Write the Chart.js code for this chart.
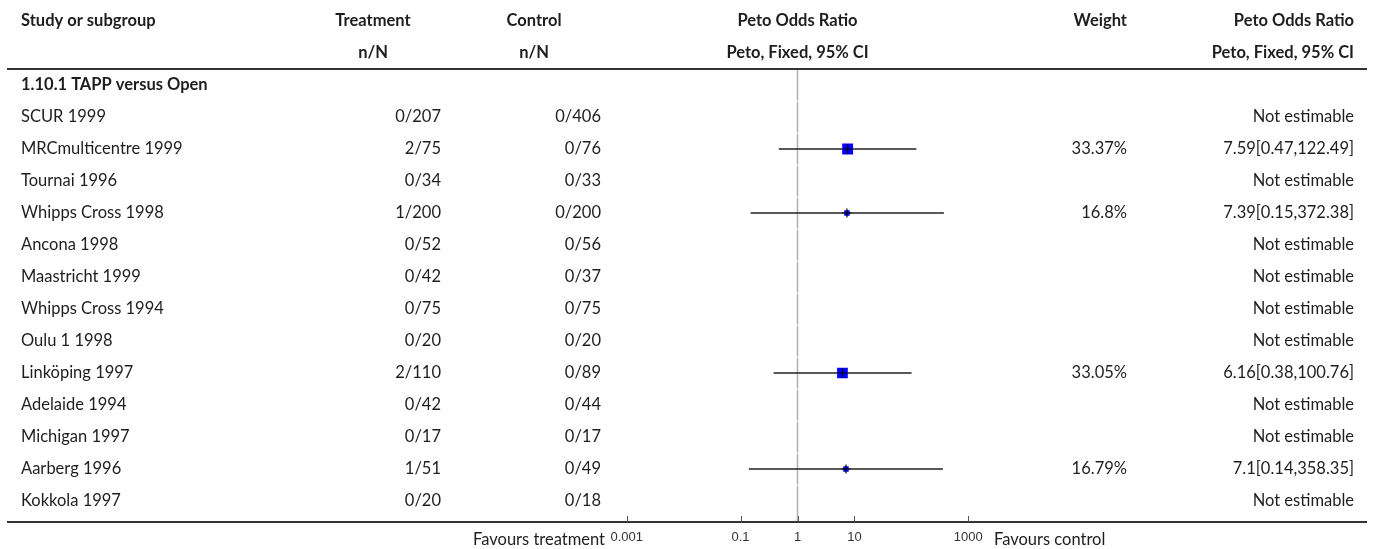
<!DOCTYPE html>
<html>
<head>
<meta charset="utf-8">
<script src="https://cdn.jsdelivr.net/npm/chart.js@4.4.1/dist/chart.umd.min.js"></script>
<style>
  html, body { margin: 0; padding: 0; background: #ffffff; }
  #wrap { width: 1375px; height: 549px; position: relative; }
</style>
</head>
<body>
<div id="wrap"><canvas id="forest" width="1375" height="549"></canvas></div>
<script>
// Study rows of subgroup 1.10.1
const subgroupTitle = '1.10.1 TAPP versus Open';
const studies = ['SCUR 1999', 'MRCmulticentre 1999', 'Tournai 1996', 'Whipps Cross 1998', 'Ancona 1998',
  'Maastricht 1999', 'Whipps Cross 1994', 'Oulu 1 1998', 'Linköping 1997', 'Adelaide 1994',
  'Michigan 1997', 'Aarberg 1996', 'Kokkola 1997'];
const treatment = ['0/207', '2/75', '0/34', '1/200', '0/52', '0/42', '0/75', '0/20', '2/110', '0/42', '0/17', '1/51', '0/20'];
const control = ['0/406', '0/76', '0/33', '0/200', '0/56', '0/37', '0/75', '0/20', '0/89', '0/44', '0/17', '0/49', '0/18'];
// Peto odds ratio with 95% CI and weight (%); null = not estimable
const petoOR = [null, 7.59, null, 7.39, null, null, null, null, 6.16, null, null, 7.1, null];
const ciLow = [null, 0.47, null, 0.15, null, null, null, null, 0.38, null, null, 0.14, null];
const ciHigh = [null, 122.49, null, 372.38, null, null, null, null, 100.76, null, null, 358.35, null];
const weights = [null, 33.37, null, 16.8, null, null, null, null, 33.05, null, null, 16.79, null];
// Axis
const xTicks = [0.001, 0.1, 1, 10, 1000];
const xMin = 0.001, xMax = 1000;

const FONT = 'Lato, "Noto Sans", sans-serif';
const FONT_SIZE = 16.5;
const TEXT = '#1e1e1e';

const estimable = studies.map((s, i) => petoOR[i] !== null);
const idx = studies.map((s, i) => i).filter(i => estimable[i]);

const squareSide = w => 0.325 * w;

const datasets = [];
// cross at each point estimate
datasets.push({
  type: 'scatter',
  data: idx.map(i => ({ x: petoOR[i], y: i })),
  pointStyle: 'cross',
  pointRadius: 4.5,
  pointHoverRadius: 4.5,
  borderColor: '#000000',
  borderWidth: 1.2,
  order: 0
});
// weight squares
datasets.push({
  type: 'scatter',
  data: idx.map(i => ({ x: petoOR[i], y: i, w: weights[i] })),
  pointStyle: 'rect',
  pointRadius: c => squareSide(c.raw.w) / Math.SQRT2,
  pointHoverRadius: c => squareSide(c.raw.w) / Math.SQRT2,
  backgroundColor: '#0000ff',
  borderColor: '#0000ff',
  borderWidth: 0,
  order: 1
});
// confidence interval lines
idx.forEach(i => {
  datasets.push({
    type: 'line',
    data: [{ x: ciLow[i], y: i }, { x: ciHigh[i], y: i }],
    borderColor: '#222222',
    borderWidth: 1.5,
    pointRadius: 0,
    pointHoverRadius: 0,
    fill: false,
    order: 2
  });
});

const LINE_X0 = 7, LINE_X1 = 1367;

const tablePlugin = {
  id: 'forestTable',
  beforeDatasetsDraw(chart) {
    const { ctx, scales: { x, y }, chartArea } = chart;
    // line of no effect, one segment per row
    const px = x.getPixelForValue(1);
    ctx.save();
    ctx.strokeStyle = '#b0b0b0';
    ctx.lineWidth = 1.5;
    for (let r = -1; r < studies.length; r++) {
      const top = y.getPixelForValue(r - 0.5) + 0.5;
      const bot = r === studies.length - 1 ? chartArea.bottom : y.getPixelForValue(r + 0.5) - 0.5;
      ctx.beginPath();
      ctx.moveTo(px, top);
      ctx.lineTo(px, bot);
      ctx.stroke();
    }
    ctx.restore();
  },
  afterDraw(chart) {
    const { ctx, scales: { x, y }, chartArea } = chart;
    ctx.save();
    // rules
    ctx.strokeStyle = '#333333';
    ctx.lineWidth = 2;
    const headY = Math.round((y.getPixelForValue(-2) + y.getPixelForValue(-1)) / 2);
    [headY, chartArea.bottom].forEach(ly => {
      ctx.beginPath();
      ctx.moveTo(LINE_X0, ly);
      ctx.lineTo(LINE_X1, ly);
      ctx.stroke();
    });
    // tick marks rising from the axis
    ctx.strokeStyle = '#555555';
    ctx.lineWidth = 1;
    xTicks.forEach(v => {
      const tx = Math.round(x.getPixelForValue(v)) + 0.5;
      ctx.beginPath();
      ctx.moveTo(tx, chartArea.bottom);
      ctx.lineTo(tx, chartArea.bottom - 6);
      ctx.stroke();
    });

    ctx.fillStyle = TEXT;
    ctx.textBaseline = 'middle';
    const put = (t, px, py, align, bold) => {
      ctx.font = (bold ? 'bold ' : '') + FONT_SIZE + 'px ' + FONT;
      ctx.textAlign = align;
      ctx.fillText(t, px, py);
    };
    const h1 = y.getPixelForValue(-3), h2 = y.getPixelForValue(-2);
    const orX = x.getPixelForValue(1);
    put('Study or subgroup', 21, h1, 'left', true);
    put('Treatment', 373, h1, 'center', true);
    put('n/N', 373, h2, 'center', true);
    put('Control', 534, h1, 'center', true);
    put('n/N', 534, h2, 'center', true);
    put('Peto Odds Ratio', orX, h1, 'center', true);
    put('Peto, Fixed, 95% CI', orX, h2, 'center', true);
    put('Weight', 1127, h1, 'right', true);
    put('Peto Odds Ratio', 1354, h1, 'right', true);
    put('Peto, Fixed, 95% CI', 1354, h2, 'right', true);
    put(subgroupTitle, 21, y.getPixelForValue(-1), 'left', true);

    studies.forEach((s, i) => {
      const ry = y.getPixelForValue(i);
      put(s, 21, ry, 'left', false);
      put(treatment[i], 441, ry, 'right', false);
      put(control[i], 601, ry, 'right', false);
      if (estimable[i]) {
        put(weights[i] + '%', 1127, ry, 'right', false);
        put(petoOR[i] + '[' + ciLow[i] + ',' + ciHigh[i] + ']', 1354, ry, 'right', false);
      } else {
        put('Not estimable', 1354, ry, 'right', false);
      }
    });

    const fy = chartArea.bottom + 18;
    put('Favours treatment', 605, fy, 'right', false);
    put('Favours control', 994, fy, 'left', false);
    ctx.restore();
  }
};

new Chart(document.getElementById('forest'), {
  type: 'scatter',
  data: { datasets },
  options: {
    responsive: false,
    devicePixelRatio: 1,
    animation: false,
    events: [],
    layout: { padding: { left: 626.7, right: 406.7, top: 69, bottom: 5.8 } },
    plugins: { legend: { display: false }, tooltip: { enabled: false } },
    scales: {
      x: {
        type: 'logarithmic',
        position: 'bottom',
        min: xMin,
        max: xMax,
        afterBuildTicks: s => { s.ticks = xTicks.map(v => ({ value: v })); },
        afterFit: s => { s.height = 21.2; },
        ticks: {
          autoSkip: false,
          maxRotation: 0,
          padding: 8,
          color: '#333333',
          font: { family: '"Liberation Sans", sans-serif', size: 13 },
          callback: v => String(v)
        },
        grid: { display: false, drawTicks: false },
        border: { display: false }
      },
      y: {
        type: 'linear',
        reverse: true,
        min: -1.5,
        max: 12.65625,
        display: false
      }
    }
  },
  plugins: [tablePlugin]
});
</script>
</body>
</html>
